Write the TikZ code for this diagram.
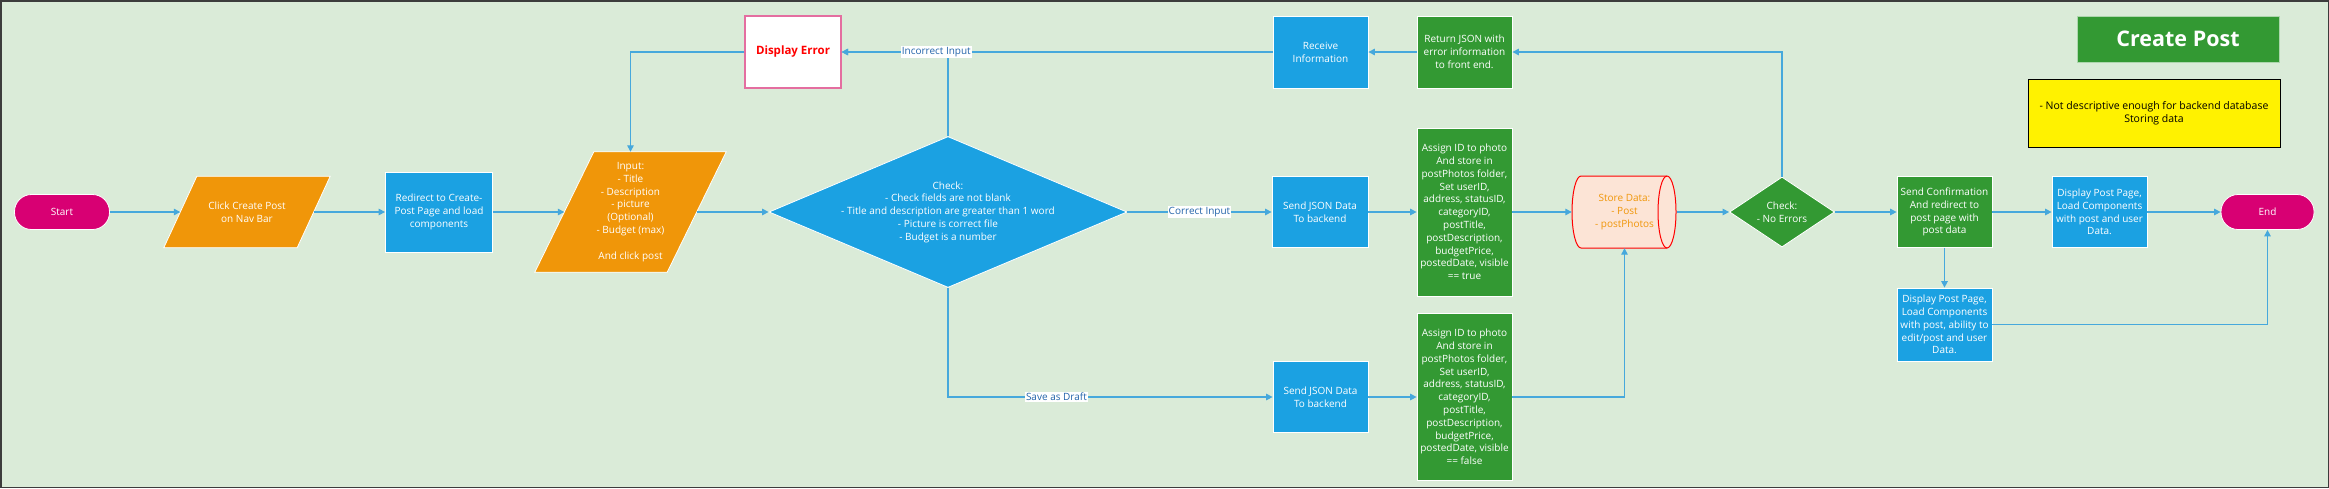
\documentclass[tikz,border=0pt]{standalone}
\usepackage{fontspec}
\setmainfont{Open Sans}
\usetikzlibrary{arrows.meta,shapes.geometric,calc,backgrounds}
\definecolor{bgc}{RGB}{218,235,216}
\definecolor{vblue}{RGB}{27,161,226}
\definecolor{vorange}{RGB}{240,150,9}
\definecolor{vgreen}{RGB}{51,153,51}
\definecolor{vmag}{RGB}{216,0,115}
\definecolor{connc}{RGB}{70,168,220}
\definecolor{lblc}{RGB}{35,100,170}
\definecolor{errpink}{RGB}{228,110,160}
\definecolor{storefill}{RGB}{252,228,214}
\definecolor{framec}{RGB}{60,60,60}
\newcommand\myfs{\fontsize{10pt}{12.8pt}\selectfont}
\begin{document}
\begin{tikzpicture}[x=1pt,y=-1pt,
  txt/.style={align=center, inner sep=0pt, font=\myfs, text=white},
  bluebox/.style={txt, rectangle, fill=vblue, draw=white, line width=0.8pt, minimum width=95pt},
  greenbox/.style={txt, rectangle, fill=vgreen, draw=white, line width=0.8pt, minimum width=95pt},
  term/.style={txt, rectangle, rounded corners=17pt, fill=vmag, draw=white, line width=0.8pt, minimum height=35pt},
  conn/.style={draw=connc, line width=1.3pt, -{Triangle[length=6.5pt,width=6.5pt]}},
  lbl/.style={fill=white, text=lblc, inner sep=0.8pt, font=\myfs},
  pgfill/.style={fill=vorange, draw=white, line width=0.8pt}]
\useasboundingbox (0,0) rectangle (2329,488);

% nodes
\node[term, minimum width=95pt] (start) at (62,212) {Start};
\node[txt, minimum width=133pt, minimum height=71pt] (click) at (247,212) {Click Create Post\\on Nav Bar};
\node[bluebox, minimum width=107pt, minimum height=80pt] (redir) at (439,212) {Redirect to Create-\\Post Page and load\\components};
\node[txt, minimum width=132pt, minimum height=120pt] (input) at (630.5,212) {Input:\\- Title\\- Description\\- picture\\(Optional)\\- Budget (max)\\\mbox{}\\And click post};
\node[diamond, fill=vblue, draw=white, line width=0.8pt, minimum width=358pt, minimum height=151pt, inner sep=0pt] (chk) at (948,212) {};
\node[txt] (chkt) at (chk) {Check:\\- Check fields are not blank\\- Title and description are greater than 1 word\\- Picture is correct file\\- Budget is a number};
\node[txt, fill=white, draw=errpink, line width=1.3pt, minimum width=96pt, minimum height=72pt, text=red, font=\fontsize{11.5pt}{14pt}\selectfont\bfseries] (derr) at (793,52) {Display Error};
\node[bluebox, minimum height=72pt] (recv) at (1320.5,52) {Receive\\Information};
\node[greenbox, minimum height=72pt] (ret) at (1464.5,52) {Return JSON with\\error information\\to front end.};
\node[bluebox, minimum width=96pt, minimum height=71pt] (sj) at (1320,212) {Send JSON Data\\To backend};
\node[greenbox, minimum height=168pt] (asgT) at (1464.5,212) {Assign ID to photo\\And store in\\postPhotos folder,\\Set userID,\\address, statusID,\\categoryID,\\postTitle,\\postDescription,\\budgetPrice,\\postedDate, visible\\== true};
\node[txt, text=vorange, minimum width=105pt, minimum height=72pt] (store) at (1624.5,212) {Store Data:\\- Post\\- postPhotos};
\node[diamond, fill=vgreen, draw=white, line width=0.8pt, minimum width=105pt, minimum height=70pt, inner sep=0pt] (ck) at (1782,212) {};
\node[txt] (ckt) at (ck) {Check:\\- No Errors};
\node[greenbox, minimum height=71pt] (sc) at (1944.5,212) {Send Confirmation\\And redirect to\\post page with\\post data};
\node[bluebox, minimum height=71pt] (dp) at (2099.5,212) {Display Post Page,\\Load Components\\with post and user\\Data.};
\node[term, minimum width=93pt] (endn) at (2267.5,212) {End};
\node[bluebox, minimum height=73pt] (dl) at (1944.5,324.5) {Display Post Page,\\Load Components\\with post, ability to\\edit/post and user\\Data.};
\node[bluebox, minimum height=71pt] (sjd) at (1320.5,397) {Send JSON Data\\To backend};
\node[greenbox, minimum height=167pt] (asgF) at (1464.5,397) {Assign ID to photo\\And store in\\postPhotos folder,\\Set userID,\\address, statusID,\\categoryID,\\postTitle,\\postDescription,\\budgetPrice,\\postedDate, visible\\== false};
\node[txt, fill=vgreen, draw=white!60!vgreen, line width=0.8pt, minimum width=202pt, minimum height=46pt, font=\fontsize{21.5pt}{26pt}\selectfont\bfseries] (title) at (2178,39) {Create Post};
\node[txt, fill=yellow, draw=black, line width=0.8pt, text=black, minimum width=252pt, minimum height=68pt, font=\fontsize{10.5pt}{13pt}\selectfont] (note) at (2154,113) {- Not descriptive enough for backend database\\Storing data};

% background shapes
\begin{scope}[on background layer]
\fill[bgc] (0,0) rectangle (2329,488);
\draw[pgfill] ($(click.north west)+(16.5,0)$) -- ($(click.north east)+(16.5,0)$) -- ($(click.south east)+(-16.5,0)$) -- ($(click.south west)+(-16.5,0)$) -- cycle;
\draw[pgfill] ($(input.north west)+(29.5,0)$) -- ($(input.north east)+(29.5,0)$) -- ($(input.south east)+(-29.5,0)$) -- ($(input.south west)+(-29.5,0)$) -- cycle;
\draw[fill=storefill, draw=red, line width=1pt] (1581,176) arc[start angle=90, end angle=270, x radius=9pt, y radius=36pt] -- (1667,248) arc[start angle=270, end angle=450, x radius=9pt, y radius=36pt] -- cycle;
\draw[draw=red, line width=1pt] (1667,176) arc[start angle=90, end angle=270, x radius=9pt, y radius=36pt];
\end{scope}

% connectors
\draw[conn] (start) -- (click);
\draw[conn] (click) -- (redir);
\draw[conn] (redir) -- (input);
\draw[conn] (input) -- (chk);
\draw[conn] (chk) -- node[lbl]{Correct Input} (sj);
\draw[conn] (sj) -- (asgT);
\draw[conn] (asgT) -- (store);
\draw[conn] (store) -- (ck);
\draw[conn] (ck) -- (sc);
\draw[conn] (sc) -- (dp);
\draw[conn] (dp) -- (endn);
\draw[conn] (sc) -- (dl);
\draw[conn] (dl) -| (endn);
\draw[conn] (ret) -- (recv);
\draw[conn] (recv) -- (derr);
\draw[conn] (chk.north) |- node[lbl, pos=0.555]{Incorrect Input} (derr);
\draw[conn] (ck.north) |- (ret);
\draw[conn] (derr) -| (input);
\draw[conn] (chk.south) |- node[lbl, pos=0.667]{Save as Draft} (sjd);
\draw[conn] (sjd) -- (asgF);
\draw[conn] (asgF) -| (store);

% frame
\draw[framec, line width=1.5pt] (0.75,0.75) rectangle (2328.25,487.25);
\end{tikzpicture}
\end{document}
